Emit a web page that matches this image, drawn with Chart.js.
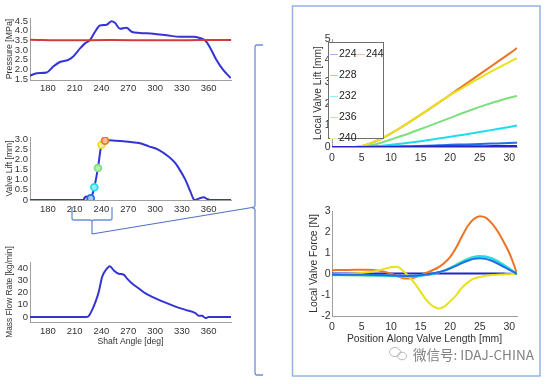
<!DOCTYPE html>
<html>
<head>
<meta charset="utf-8">
<script src="https://cdn.jsdelivr.net/npm/chart.js@4.4.0/dist/chart.umd.min.js"></script>
<style>
  body { margin: 0; background: #fff; }
  #stage { position: relative; width: 554px; height: 384px; overflow: hidden; font-family: 'Liberation Sans', Arial, sans-serif; }
  canvas { position: absolute; }
  #legend { position: absolute; left: 328px; top: 42px; width: 54px; height: 95px; border: 1px solid #6f6f6f; background: #fff; }
  .item { position: absolute; font-size: 10.5px; color: #222; line-height: 12px; white-space: nowrap; }
  .item i { display: inline-block; width: 8px; height: 0; border-top: 1.5px solid; vertical-align: middle; margin-right: 1px; }
  #mark { position: absolute; left: 413px; top: 344px; font: 13.5px 'Noto Sans CJK SC', sans-serif; color: #808080; white-space: nowrap; }
  svg { position: absolute; left: 0; top: 0; pointer-events: none; }
</style>
</head>
<body>
<div id="stage">
  <canvas id="pressureChart" width="240" height="100" style="left:0;top:0"></canvas>
  <canvas id="liftChart" width="240" height="110" style="left:0;top:110px"></canvas>
  <canvas id="flowChart" width="240" height="110" style="left:0;top:240px"></canvas>
  <canvas id="localLiftChart" width="230" height="150" style="left:296px;top:20px"></canvas>
  <canvas id="forceChart" width="230" height="150" style="left:296px;top:195px"></canvas>
  <div id="legend"></div>
  <div id="mark">微信号: IDAJ-CHINA</div>
  <svg width="554" height="384">
    <rect x="292.5" y="6" width="247.5" height="370" fill="none" stroke="#93b3e8" stroke-width="1.5"/>
    <path d="M263,45 L257,45 Q255,45 255,47 L255,205 Q255,207.5 252,207.5 Q255,208 255,210 L255,373 Q255,375 257,375 L263,375" fill="none" stroke="#6b8fd6" stroke-width="1.3"/>
    <path d="M72,207 L72,218 Q72,220 74,220 L90,220 Q92,220 92,222 L92,234 M92,222 Q92,220 94,220 L110,220 Q112,220 112,218 L112,207" fill="none" stroke="#6b8fd6" stroke-width="1.3"/>
    <path d="M92,234 L252,207.5" fill="none" stroke="#4f74c0" stroke-width="1.2"/>
    <g fill="none" stroke="#b8b8b8" stroke-width="1">
      <ellipse cx="395" cy="352" rx="5.5" ry="4.5"/>
      <ellipse cx="402" cy="356" rx="4.5" ry="3.8"/>
    </g>
  </svg>
</div>
<script>
// Shaft angle charts (left)
const shaftTicks = [180, 210, 240, 270, 300, 330, 360];
const pressureTicks = [1.5, 2, 2.5, 3, 3.5, 4, 4.5];
const liftTicks = [0, 0.5, 1, 1.5, 2, 2.5, 3];
const flowTicks = [0, 10, 20, 30, 40];

const pressureAngle = [160, 167.5, 178.6, 186, 193.5, 202.9, 208.4, 216, 221.5, 227, 232.8, 238.3, 245.8, 251.3, 255, 260.7, 268, 273.8, 283, 298, 313, 328, 343, 350, 355.6, 361, 368.6, 376, 384.7];
const pressureVal = [1.67, 1.8, 1.84, 2.15, 2.38, 2.49, 2.66, 3.08, 3.34, 3.51, 3.94, 4.26, 4.3, 4.48, 4.4, 4.1, 4.15, 3.94, 3.88, 3.84, 3.76, 3.68, 3.68, 3.62, 3.51, 3.17, 2.49, 1.98, 1.55];
const refAngle = [160, 200, 250, 300, 350, 385];
const refPressure = [3.53, 3.5, 3.51, 3.5, 3.51, 3.52];

const liftAngle = [160, 222, 224, 228, 232, 236, 240, 244, 248, 256, 267, 282, 293, 304, 315, 322, 326.5, 334, 339.6, 343.3, 345.2, 348, 350.8, 354.5, 358.2, 362, 385];
const liftVal = [0, 0, 0, 0.08, 0.63, 1.57, 2.72, 2.92, 2.94, 2.91, 2.88, 2.8, 2.64, 2.47, 2.14, 1.85, 1.57, 0.99, 0.41, 0.03, 0, 0.05, 0.1, 0.13, 0.05, 0, 0];
const markerAngle = [224, 228, 232, 236, 240, 244];
const markerLift = [0.01, 0.08, 0.63, 1.57, 2.72, 2.92];

const flowAngle = [160, 222, 225.9, 229.6, 233.4, 237, 240.7, 244.5, 249.4, 253.8, 259.4, 265, 268.7, 274.3, 281.8, 289.3, 300.5, 311.7, 322.9, 334, 345.2, 348.9, 352.6, 356.4, 360, 385];
const flowVal = [0, 0, 1, 5.9, 12.6, 20.7, 32.8, 38.1, 41.6, 38.1, 35.4, 34.6, 31.4, 27.4, 23.4, 19.3, 15.3, 11.8, 8.6, 5.9, 3.2, 1.1, 1.1, -0.8, 0, 0];

// Local charts (right)
const angleLabels = ['224', '228', '232', '236', '240', '244'];
const angleColors = ['#2424c8', '#1f6fe6', '#1edcee', '#7ddf7d', '#e6e21c', '#ec7426'];
const legendColors = ['#aab0f0', '#a8ccf0', '#99eef5', '#b4eeb4', '#f3f0a0', '#f5c09a'];
const posTicks = [0, 5, 10, 15, 20, 25, 30];
const localLiftTicks = [0, 1, 2, 3, 4, 5];
const forceTicks = [-2, -1, 0, 1, 2, 3];

const liftPos = [0, 2, 4, 6, 8, 10, 12, 14, 16, 18, 20, 22, 24, 26, 28, 30, 31.3];
const lift224 = [0, 0, 0, 0, 0, 0.005, 0.01, 0.015, 0.02, 0.025, 0.03, 0.035, 0.04, 0.04, 0.045, 0.05, 0.05];
const lift228 = [0, 0, 0, 0.005, 0.01, 0.02, 0.03, 0.045, 0.06, 0.08, 0.1, 0.115, 0.13, 0.15, 0.165, 0.185, 0.2];
const lift232 = [0, 0, 0, 0.01, 0.05, 0.1, 0.16, 0.23, 0.31, 0.39, 0.47, 0.56, 0.65, 0.74, 0.83, 0.93, 1.0];
const lift236 = [0, 0, 0, 0.04, 0.17, 0.35, 0.53, 0.73, 0.93, 1.14, 1.35, 1.56, 1.76, 1.95, 2.12, 2.28, 2.36];
const lift240 = [0, 0, 0, 0.12, 0.34, 0.63, 0.96, 1.31, 1.67, 2.04, 2.4, 2.72, 3.05, 3.35, 3.65, 3.93, 4.12];
const lift244 = [0, 0, 0, 0.12, 0.34, 0.63, 0.96, 1.31, 1.67, 2.04, 2.42, 2.8, 3.18, 3.56, 3.94, 4.32, 4.58];

const forcePos = [0, 2, 4, 6, 8, 10, 11, 12, 13, 14, 15, 16, 17, 18, 19, 20, 21, 22, 23, 24, 25, 26, 27, 28, 29, 30, 30.7, 31.3];
const force224 = [0.02, 0.02, 0.02, 0.02, 0.02, 0.02, 0.02, 0.02, 0.02, 0.02, 0.02, 0.02, 0.02, 0.02, 0.02, 0.02, 0.02, 0.02, 0.02, 0.02, 0.02, 0.02, 0.02, 0.02, 0.02, 0.01, 0.01, 0];
const force228 = [-0.03, -0.03, -0.03, -0.04, -0.05, -0.07, -0.08, -0.09, -0.09, -0.08, -0.06, -0.03, 0.02, 0.08, 0.16, 0.27, 0.39, 0.52, 0.63, 0.72, 0.75, 0.72, 0.63, 0.5, 0.35, 0.2, 0.1, 0];
const force232 = [-0.04, -0.04, -0.05, -0.06, -0.07, -0.09, -0.1, -0.11, -0.11, -0.1, -0.08, -0.05, 0, 0.07, 0.16, 0.28, 0.42, 0.57, 0.7, 0.8, 0.84, 0.82, 0.74, 0.6, 0.43, 0.25, 0.12, 0];
const force236 = [-0.06, -0.06, -0.07, -0.08, -0.09, -0.1, -0.11, -0.12, -0.12, -0.11, -0.09, -0.05, 0, 0.08, 0.17, 0.3, 0.45, 0.6, 0.73, 0.82, 0.86, 0.84, 0.76, 0.62, 0.45, 0.27, 0.13, 0];
const force240 = [-0.02, 0, 0.02, 0.08, 0.18, 0.32, 0.34, 0.15, -0.12, -0.45, -0.85, -1.25, -1.52, -1.64, -1.55, -1.3, -1.02, -0.65, -0.4, -0.22, -0.14, -0.08, -0.05, -0.03, -0.02, -0.01, 0, 0];
const force244 = [0.18, 0.19, 0.2, 0.2, 0.16, 0.02, -0.1, -0.2, -0.22, -0.17, -0.06, 0.06, 0.18, 0.32, 0.52, 0.82, 1.25, 1.8, 2.3, 2.62, 2.75, 2.68, 2.42, 2.05, 1.55, 1.0, 0.5, 0];

Chart.defaults.font.family = "'Liberation Sans', Arial, sans-serif";
Chart.defaults.color = '#333';

function series(xs, ys, color, width) {
    return {
        data: xs.map((x, i) => ({ x: x, y: ys[i] })),
        borderColor: color,
        borderWidth: width,
        pointRadius: 0,
        cubicInterpolationMode: 'monotone',
        fill: false
    };
}

function axis(o) {
    return {
        type: 'linear',
        min: o.min,
        max: o.max,
        afterBuildTicks: s => { s.ticks = o.ticks.map(v => ({ value: v })); },
        afterFit: s => { if (o.w) s.width = o.w; if (o.h) s.height = o.h; },
        grid: { display: false, drawTicks: false },
        border: { display: true, color: '#a0a0a0' },
        ticks: { padding: o.pad, font: { size: o.size }, color: '#333', maxRotation: 0, autoSkip: false },
        title: o.title ? { display: true, text: o.title, font: { size: o.tsize }, color: '#333', padding: o.tpad } : { display: false }
    };
}

function makeChart(id, datasets, o) {
    return new Chart(document.getElementById(id), {
        type: 'line',
        data: { datasets: datasets },
        options: {
            responsive: false,
            animation: false,
            layout: { padding: { top: o.pt, right: o.pr, left: 0, bottom: 0 } },
            plugins: { legend: { display: false }, tooltip: { enabled: false } },
            scales: { x: axis(o.x), y: axis(o.y) }
        }
    });
}

// Pressure
makeChart('pressureChart', [
    series(refAngle, refPressure, '#d43a3a', 2),
    series(pressureAngle, pressureVal, '#3434d4', 2)
], {
    pt: 18, pr: 9,
    x: { min: 160, max: 385, ticks: shaftTicks, h: 20, pad: 2.5, size: 9.5 },
    y: { min: 1.45, max: 4.65, ticks: pressureTicks, w: 30, pad: 2, size: 9.5, title: 'Pressure [MPa]', tsize: 8.8, tpad: { top: 4.7, bottom: 0 } }
});

// Valve lift with markers
const markerSet = {
    data: markerAngle.map((x, i) => ({ x: x, y: markerLift[i] })),
    showLine: false,
    pointRadius: 3.4,
    pointBorderWidth: 1.7,
    pointBorderColor: angleColors,
    pointBackgroundColor: legendColors
};
makeChart('liftChart', [
    markerSet,
    series(liftAngle, liftVal, '#3434d4', 2)
], {
    pt: 27, pr: 9,
    x: { min: 160, max: 385, ticks: shaftTicks, h: 20, pad: 3.5, size: 9.5 },
    y: { min: 0, max: 3.1, ticks: liftTicks, w: 30, pad: 2, size: 9.5, title: 'Valve Lift [mm]', tsize: 8.6, tpad: { top: 4.8, bottom: 0 } }
});

// Mass flow
makeChart('flowChart', [
    series(flowAngle, flowVal, '#3434d4', 2)
], {
    pt: 22, pr: 9,
    x: { min: 160, max: 385, ticks: shaftTicks, h: 28, pad: 3.5, size: 9.5, title: 'Shaft Angle [deg]', tsize: 8.6, tpad: { top: 0, bottom: 3.5 } },
    y: { min: -4, max: 45, ticks: flowTicks, w: 30, pad: 2, size: 9.5, title: 'Mass Flow Rate [kg/min]', tsize: 8.4, tpad: { top: 4.9, bottom: 0 } }
});

// Local valve lift
const liftSets = [lift224, lift228, lift232, lift236, lift240, lift244];
makeChart('localLiftChart', liftSets.map((ys, i) => series(liftPos, ys, angleColors[i], 2)), {
    pt: 19, pr: 9,
    x: { min: 0, max: 31.3, ticks: posTicks, h: 23, pad: 4.5, size: 10.5 },
    y: { min: 0, max: 5, ticks: localLiftTicks, w: 36, pad: 1.5, size: 10.5, title: 'Local Valve Lift [mm]', tsize: 10.2, tpad: { top: 15.8, bottom: 0 } }
});

// Local valve force
const forceSets = [force228, force232, force236, force240, force244, force224];
const forceColors = [angleColors[1], angleColors[2], angleColors[3], angleColors[4], angleColors[5], angleColors[0]];
makeChart('forceChart', forceSets.map((ys, i) => series(forcePos, ys, forceColors[i], 2)), {
    pt: 16, pr: 9,
    x: { min: 0, max: 31.3, ticks: posTicks, h: 29, pad: 5, size: 10.5, title: 'Position Along Valve Length [mm]', tsize: 10.4, tpad: { top: 0, bottom: 0 } },
    y: { min: -2, max: 3, ticks: forceTicks, w: 36, pad: 1.5, size: 10.5, title: 'Local Valve Force [N]', tsize: 10.4, tpad: { top: 11.8, bottom: 0 } }
});

// Legend box (two columns, MATLAB style)
const legend = document.getElementById('legend');
angleLabels.forEach((label, i) => {
    const col = i < 5 ? 0 : 1;
    const row = i < 5 ? i : 0;
    const el = document.createElement('div');
    el.className = 'item';
    el.style.left = (col === 0 ? 1 : 28) + 'px';
    el.style.top = (4 + row * 21) + 'px';
    el.innerHTML = '<i style="border-color:' + legendColors[i] + '"></i>' + label;
    legend.appendChild(el);
});
</script>
</body>
</html>
